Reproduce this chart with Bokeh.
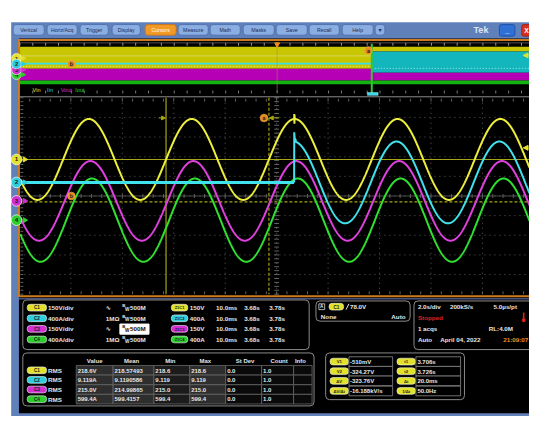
import numpy as np
from bokeh.plotting import figure
from bokeh.models import Range1d
from bokeh.core.properties import value
from bokeh.embed import file_html
from bokeh.resources import INLINE

# ===================== values =====================
menu_labels = ["Vertical", "Horiz/Acq", "Trigger", "Display", "Cursors", "Measure",
               "Math", "Masks", "Save", "Recall", "Help", "▼"]
active_menu = "Cursors"

channel_ids = ["C1", "C2", "C3", "C4"]
trace_names = ["Vin", "Iin", "Vout", "Iout"]
scale_per_div = [150.0, 400.0, 150.0, 400.0]          # V/div or A/div
scale_labels = ["150V/div", "400A/div", "150V/div", "400A/div"]
input_setting = ["∿", "1MΩ", "∿", "1MΩ"]
bw_limit = ["500M", "500M", "500M", "500M"]
position_div = [1.86, 0.69, -0.25, -1.23]             # vertical position (div)
zoom_badges = ["Z1C1", "Z1C2", "Z1C3", "Z1C4"]
zoom_scale = ["150V", "400A", "150V", "400A"]
zoom_info = ["10.0ms", "3.68s", "3.78s"]

zoom_start_s = 3.6775          # time at left graticule edge
zoom_per_div_s = 0.010         # 10.0 ms/div
line_freq_hz = 50.0
peak_amp = [309.0, 833.0, 304.0, 848.0]                # V or A peak
first_peak_s = [3.6910, 3.6908, 3.6913, 3.6916]
iin_step_s = 3.7309
iin_transient_dt = [0.0, 0.00002, 0.00010, 0.00030]
iin_transient_a = [0.0, 1020.0, 900.0, 870.0]
vin_spike_dt = [0.0, 0.00003, 0.00006, 0.00009, 0.00012]
vin_spike_v = [305.0, 346.0, 272.0, 335.0, 300.0]

cursor_t = [3.706, 3.726]
cursor_v = [-0.51, -324.27]
cursor_v_labels = ["V1", "V2", "ΔV", "ΔV/Δt"]
cursor_v_values = ["-510mV", "-324.27V", "-323.76V", "-16.188kV/s"]
cursor_t_labels = ["t1", "t2", "Δt", "1/Δt"]
cursor_t_values = ["3.706s", "3.726s", "20.0ms", "50.0Hz"]

trigger_source = "C1"
trigger_level = "78.0V"
trigger_row2 = ["None", "Auto"]
horiz_row1 = ["2.0s/div", "200kS/s", "5.0µs/pt"]
acq_state = "Stopped"
horiz_row3 = ["1 acqs", "RL:4.0M"]
horiz_row4 = ["Auto", "April 04, 2022", "21:09:07"]

meas_headers = ["Value", "Mean", "Min", "Max", "St Dev", "Count", "Info"]
meas_type = "RMS"
meas_value = ["218.6V", "9.119A", "215.0V", "599.4A"]
meas_mean = ["218.57493", "9.1190586", "214.99865", "599.4157"]
meas_min = ["218.6", "9.119", "215.0", "599.4"]
meas_max = ["218.6", "9.119", "215.0", "599.4"]
meas_stdev = ["0.0", "0.0", "0.0", "0.0"]
meas_count = ["1.0", "1.0", "1.0", "1.0"]

# ===================== styles / layout =====================
FONT = "Liberation Sans"
CH_COLOR = ["#e2e22c", "#2ecfdc", "#d22ed2", "#2ccf2c"]
TRACE_COLOR = ["#eeee3c", "#40e2ee", "#e040e0", "#30e030"]
BAND_COLOR = ["#c8c600", "#14b6be", "#b600b6", "#12b412"]
FRAME_BLUE = "#6080ba"
ORANGE = "#cc7c1e"
OLIVE = "#a4a414"

X0, X1, Y0, Y1 = 0, 545, 0, 432        # reference coordinate window
PW, PH = 529, 416                      # figure size (fits window with 8px margin)
FS = PH / Y1                            # text / marker shrink factor
GX0, GDX = 19.5, 53.0
GY_TOP, GDY = 101.0, 20.4
GYC = GY_TOP + 5 * GDY
GY_BOT = GY_TOP + 10 * GDY
XR = 545                                # right edge of drawn screen content

p = figure(width=PW, height=PH, x_range=Range1d(X0, X1), y_range=Range1d(Y1, Y0),
           output_backend="svg", toolbar_location=None, min_border=0, title=None,
           x_axis_type=None, y_axis_type=None, background_fill_color="white",
           border_fill_color="white", outline_line_color=None)


def t_of_x(x):
    return zoom_start_s + (x - GX0) / GDX * zoom_per_div_s


def v_of_y(y, i):
    return ((GYC - y) / GDY - position_div[i]) * scale_per_div[i]


p.extra_x_ranges = {"time": Range1d(t_of_x(X0), t_of_x(X1))}
p.extra_y_ranges = {f"ch{i}": Range1d(v_of_y(Y1, i), v_of_y(Y0, i)) for i in range(4)}


def box(l, r, t, b, fill, line=None, lw=1.0, radius=0, dash="solid"):
    p.quad(left=[l], right=[r], top=[t], bottom=[b], fill_color=fill, line_color=line,
           line_width=lw, border_radius=int(round(radius)), line_dash=dash)


def T(x, y, s, color="#e6e6e6", size=6.5, align="left", bold=True, baseline="middle", font=FONT, **kw):
    p.text(x=[x], y=[y], text=[s], text_color=color, text_font=value(font),
           text_font_size=f"{size * FS:.2f}px", text_align=align, text_baseline=baseline,
           text_font_style="bold" if bold else "normal", **kw)


def seg(x0, y0, x1, y1, color, lw=1.0, dash="solid", alpha=1.0, **kw):
    p.segment(x0=list(np.atleast_1d(x0)), y0=list(np.atleast_1d(y0)),
              x1=list(np.atleast_1d(x1)), y1=list(np.atleast_1d(y1)),
              line_color=color, line_width=lw, line_dash=dash, line_alpha=alpha, **kw)


def tri(x, y, d, s, color):
    if d == "right":
        xs, ys = [x - s, x + s, x - s], [y - s, y, y + s]
    elif d == "left":
        xs, ys = [x + s, x - s, x + s], [y - s, y, y + s]
    else:  # down
        xs, ys = [x - s, x + s, x], [y - s, y - s, y + s]
    p.patch(xs, ys, fill_color=color, line_color=color)


def dot(x, y, size, fill, line="#ffffff", lw=0.6, **kw):
    p.scatter([x], [y], size=size * FS, fill_color=fill, line_color=line, line_width=lw, **kw)


def badge(xc, y, w, label, fill, h=7.0, tsize=4.8):
    box(xc - w / 2, xc + w / 2, y - h / 2, y + h / 2, fill, line="#f4f4f4", lw=0.6, radius=3)
    T(xc, y + 0.3, label, color="#1a1a1a", size=tsize, align="center")


# ---------------- window frame ----------------
box(11, XR, 22.5, Y1, FRAME_BLUE)
box(19, XR, 39.5, 428.5, "#000000")

# toolbar
button_x = [(13, 45), (48, 79), (82, 111), (115, 144), (149, 181), (183, 214), (216, 247),
            (250, 282), (284, 316), (318, 349), (352, 384), (386, 396)]
for (l, r), lab in zip(button_x, menu_labels):
    act = lab == active_menu
    box(l, r, 25, 36, "#f29a26" if act else "#8aaee2", line="#d07010" if act else "#4a6aaa",
        lw=0.8, radius=3)
    T((l + r) / 2, 30.7, lab, color="#ffffff" if act else "#1c2c5c", size=5.4, align="center",
      bold=False)
T(495, 31, "Tek", color="#dce4f2", size=9.5, align="center")
box(514, 530, 25, 37, "#2f70d4", line="#1a4aa0", lw=0.8, radius=2)
T(522, 31.5, "_", color="#ffffff", size=8, align="center")
box(537, 553, 25, 37, "#d83020", line="#a01810", lw=0.8, radius=2)
T(542, 31.3, "X", color="#ffffff", size=7, align="center")

# orange screen border
box(19, 560, 41, 307, None, line=ORANGE, lw=2)
seg(19, 309.8, XR, 309.8, "#4a5480", lw=1.5)

# ---------------- overview (whole record) ----------------
seg(20, 44, XR, 44, "#505050", lw=1)
tx = np.arange(20, XR, GDX / 4)
seg(tx, np.full(tx.size, 44.0), tx, np.full(tx.size, 47.0), "#b8b8b8", lw=0.8)
tx2 = np.arange(20 + GDX / 4, XR, GDX / 4)
seg(tx2, np.full(tx2.size, 93.5), tx2, np.full(tx2.size, 96.5), "#9a9a9a", lw=0.8)

XS = 382.5
box(20, XS, 48, 71, BAND_COLOR[0])
box(20, XS, 71, 83, BAND_COLOR[2])
box(20, XS, 83, 87, BAND_COLOR[3])
seg(20, 57.5, XS, 57.5, "#e0e080", lw=0.7)
seg(20, 68.5, XS, 68.5, "#f0f0a0", lw=0.8, dash="1 2")
seg(20, 65.5, XS, 65.5, "#38e0e8", lw=1.8)
box(XS, XR, 48, 53, BAND_COLOR[0])
box(XS, XR, 53, 75, BAND_COLOR[1])
box(XS, XR, 75, 83, BAND_COLOR[2])
box(XS, XR, 83, 87, BAND_COLOR[3])
seg(XS, 70.5, XR, 70.5, "#d0f0f0", lw=0.8, dash="1 2")
seg(285, 47, 285, 95, "#b08a50", lw=0.8, alpha=0.7)
tri(285, 46.5, "down", 2.5, "#f08a20")
seg(XS, 45, XS, 96, "#34c434", lw=2)
box(378, 389, 95.5, 98.5, "#40d8e8", line="#80f0f8", lw=0.5)
tri(541, 57, "left", 2.5, CH_COLOR[0])
for xx, yy, lab in [(379, 52, "a"), (73, 66, "b")]:
    dot(xx, yy, 8, "#e08a20", line="#ffb050")
    T(xx, yy + 0.3, lab, color="#202020", size=5.5, align="center")
lab_x = [33, 48, 62, 77]
for i in range(4):
    T(lab_x[i], 93, trace_names[i], color=CH_COLOR[i], size=5.8, bold=False)
ov_y = [60, 66, 72, 77]
for i in [3, 2, 0, 1]:
    dot(16.5, ov_y[i], 10, CH_COLOR[i])
    T(16.5, ov_y[i] + 0.3, str(i + 1), color="#202020", size=6, align="center")
    tri(24, ov_y[i], "right", 2, CH_COLOR[i])

# ---------------- main graticule ----------------
seg(19, 100, XR, 100, "#8c8c8c", lw=1)
vx = GX0 + GDX * np.arange(1, 10)
seg(vx, np.full(9, GY_TOP), vx, np.full(9, GY_BOT), "#5c5c5c", lw=1, dash="1 4")
hy = GY_TOP + GDY * np.arange(1, 10)
seg(np.full(9, GX0), hy, np.full(9, XR), hy, "#5c5c5c", lw=1, dash="1 4")
tk = np.arange(GX0, XR, GDX / 5)
seg(tk, np.full(tk.size, GYC - 2), tk, np.full(tk.size, GYC + 2), "#7a7a7a", lw=0.8)
seg(tk, np.full(tk.size, GY_TOP + 1), tk, np.full(tk.size, GY_TOP + 4), "#7a7a7a", lw=0.8)
seg(tk, np.full(tk.size, GY_BOT - 3), tk, np.full(tk.size, GY_BOT), "#7a7a7a", lw=0.8)
seg(GX0, GYC, XR, GYC, "#5a5a5a", lw=0.8)
cx = GX0 + 5 * GDX
tv = np.arange(GY_TOP, GY_BOT + 0.1, GDY / 5)
seg(np.full(tv.size, cx - 2.5), tv, np.full(tv.size, cx + 2.5), tv, "#7a7a7a", lw=0.8)
seg(np.full(tv.size, GX0 + 1), tv, np.full(tv.size, GX0 + 4), tv, "#7a7a7a", lw=0.8)

# cursors (time cursors on zoom time scale, amplitude cursors on channel 1 scale)
seg(cursor_t[0], GY_TOP, cursor_t[0], GY_BOT, OLIVE, lw=1.2, x_range_name="time")
seg(cursor_t[1], GY_TOP, cursor_t[1], GY_BOT, OLIVE, lw=1.2, dash="3 2", x_range_name="time")
seg(t_of_x(GX0), cursor_v[0], t_of_x(XR), cursor_v[0], OLIVE, lw=1.2,
    x_range_name="time", y_range_name="ch0")
seg(t_of_x(GX0), cursor_v[1], t_of_x(XR), cursor_v[1], OLIVE, lw=1.2, dash="3 2",
    x_range_name="time", y_range_name="ch0")

# waveforms
t = np.linspace(t_of_x(GX0 + 1), t_of_x(XR), 2600)
w = 2 * np.pi * line_freq_hz


def sine(i, tt):
    return peak_amp[i] * np.cos(w * (tt - first_peak_s[i]))


for i in [0, 2, 3]:
    tt, yy = t, sine(i, t)
    if i == 0:
        pre = t < iin_step_s
        post = t > iin_step_s + vin_spike_dt[-1]
        tt = np.concatenate([t[pre], iin_step_s + np.array(vin_spike_dt), t[post]])
        yy = np.concatenate([sine(0, t[pre]), np.array(vin_spike_v), sine(0, t[post])])
    p.line(tt, yy, line_color=TRACE_COLOR[i], line_width=2.0, x_range_name="time",
           y_range_name=f"ch{i}")
pre = t < iin_step_s
post = t > iin_step_s + iin_transient_dt[-1]
p.line(np.append(t[pre], iin_step_s), np.zeros(pre.sum() + 1), line_color=TRACE_COLOR[1],
       line_width=3.0, x_range_name="time", y_range_name="ch1")
tt = np.concatenate([iin_step_s + np.array(iin_transient_dt), t[post]])
yy = np.concatenate([np.array(iin_transient_a), sine(1, t[post])])
p.line(tt, yy, line_color=TRACE_COLOR[1], line_width=2.0, x_range_name="time", y_range_name="ch1")

# cursor handles / labels
seg(t_of_x(163), 122, t_of_x(167), 122, OLIVE, lw=1, x_range_name="time")
tri(168, 122, "right", 2, OLIVE)
seg(282, 122, 287, 122, OLIVE, lw=1)
tri(279, 122, "left", 2, OLIVE)
for xx, yy, lab in [(271.5, 122, "a"), (73, 203, "b")]:
    dot(xx, yy, 8, "#e08a20", line="#ffb050")
    T(xx, yy + 0.3, lab, color="#202020", size=5.5, align="center")
tri(541, 153, "left", 2.5, CH_COLOR[0])

# channel markers (at each channel's zero level)
for i in range(4):
    dot(16.5, 0.0, 11, CH_COLOR[i], lw=0.7, y_range_name=f"ch{i}")
    p.text(x=[16.5], y=[0.0], text=[str(i + 1)], text_color="#1a1a1a", text_font=value(FONT),
           text_font_size=f"{6.5 * FS:.2f}px", text_align="center", text_baseline="middle",
           text_font_style="bold", y_range_name=f"ch{i}")
    p.scatter([25.0], [0.0], marker="triangle", size=5, angle=-np.pi / 2, fill_color=CH_COLOR[i],
              line_color=CH_COLOR[i], y_range_name=f"ch{i}")

# ---------------- channel settings panel ----------------
box(23, 318, 311, 362.5, "#000000", line="#8a8a8a", lw=1, radius=4)
row_y = [319, 330, 341, 352]
for i in range(4):
    y = row_y[i]
    badge(37.5, y, 20, channel_ids[i], CH_COLOR[i])
    T(49, y, scale_labels[i])
    T(108.5, y, input_setting[i], font="DejaVu Sans" if input_setting[i] == "∿" else FONT)
    if i == 2:
        box(123, 153, 336, 346.5, "#ffffff", line="#ffffff")
    col = "#111111" if i == 2 else "#e6e6e6"
    T(125.5, y - 2, "B", color=col, size=4.5)
    T(128.3, y + 1.6, "W", color=col, size=4.8)
    T(133.5, y, bw_limit[i], color=col)
    badge(184.5, y, 17, zoom_badges[i], CH_COLOR[i], tsize=4.2)
    T(195, y, zoom_scale[i])
    T(222, y, zoom_info[0])
    T(251, y, zoom_info[1])
    T(277, y, zoom_info[2])

# ---------------- trigger panel ----------------
box(325, 422, 312, 333, "#000000", line="#8a8a8a", lw=1, radius=4)
box(328, 334, 315, 321, "#000000", line="#dddddd", lw=0.8)
T(331, 318.2, "A", size=4.8, align="center")
badge(346, 318, 15, trigger_source, CH_COLOR[0])
seg(356, 321, 359, 315, "#e6e6e6", lw=1)
T(360, 318, trigger_level)
T(330, 328.5, trigger_row2[0])
T(410, 328.5, trigger_row2[1], align="center")

# ---------------- horizontal / acquisition panel ----------------
box(426, 570, 312, 362.5, "#000000", line="#8a8a8a", lw=1, radius=4)
T(430, 318, horiz_row1[0])
T(463, 318, horiz_row1[1])
T(508, 318, horiz_row1[2])
T(430, 329.5, acq_state, color="#e02020")
seg(539, 324, 539, 331, "#e02020", lw=1.6)
dot(539, 332, 3.5, "#e02020", line="#e02020")
T(430, 341, horiz_row3[0])
T(503, 341, horiz_row3[1])
T(430, 352, horiz_row4[0])
T(453, 352, horiz_row4[1])
T(518, 352, horiz_row4[2], color="#f09020")

# ---------------- measurement table ----------------
box(23, 323, 366, 421, "#000000", line="#8a8a8a", lw=1, radius=4)
col_edges = [78, 116, 158, 195, 232, 269, 302, 321]
hdr_x = [97, 135, 175, 211, 252, 287, 309]
for hx, h in zip(hdr_x, meas_headers):
    T(hx, 374, h, align="center", size=6.2)
mrow_y = [384, 394, 404, 414]
cell_fill = ["#2e2e2e", "#2e2e2e", "#1c1c1c", "#2e2e2e", "#0a0a0a", "#0a0a0a", "#0a0a0a"]
columns = [meas_value, meas_mean, meas_min, meas_max, meas_stdev, meas_count, [""] * 4]
for r in range(4):
    y = mrow_y[r]
    badge(37.5, y, 20, channel_ids[r], CH_COLOR[r])
    T(49, y, meas_type)
    for c in range(7):
        box(col_edges[c], col_edges[c + 1], y - 5, y + 5, cell_fill[c], line="#6a6a6a", lw=0.8)
        if columns[c][r]:
            T(col_edges[c] + 1.5, y + 0.3, columns[c][r], size=6.2)

# ---------------- cursor readout panel ----------------
box(335, 478, 366, 414.5, "#000000", line="#8a8a8a", lw=1, radius=4)
crow_y = [375, 385, 395, 405.5]
for r in range(4):
    y = crow_y[r]
    badge(349, y, 19, cursor_v_labels[r], CH_COLOR[0], tsize=4.4)
    box(359, 404, y - 5, y + 5, "#000000", line="#8a8a8a", lw=0.8)
    T(360, y + 0.3, cursor_v_values[r], size=6.2)
    badge(418, y, 19, cursor_t_labels[r], CH_COLOR[0], tsize=4.4)
    box(428, 474, y - 5, y + 5, "#000000", line="#8a8a8a", lw=0.8)
    T(429.5, y + 0.3, cursor_t_values[r], size=6.2)

open("out.html", "w").write(file_html(p, INLINE))
